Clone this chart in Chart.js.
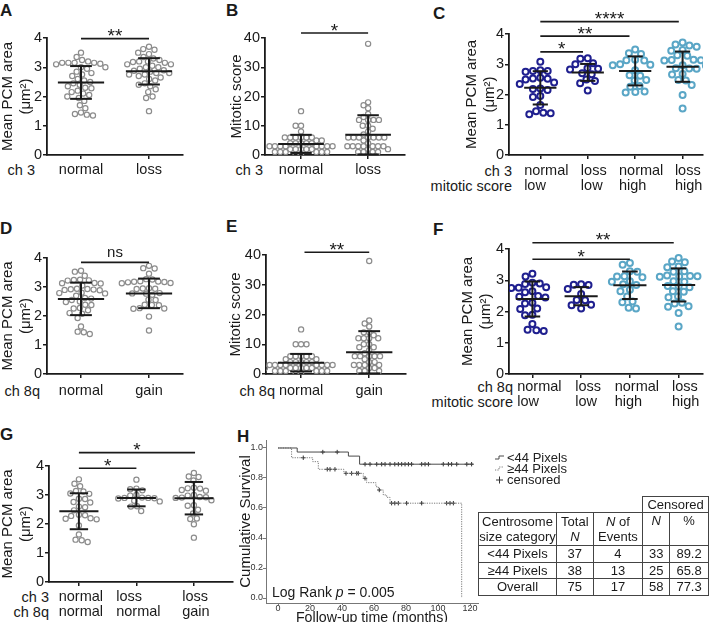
<!DOCTYPE html>
<html>
<head>
<meta charset="utf-8">
<script src="https://cdn.jsdelivr.net/npm/chart.js@4.4.1/dist/chart.umd.min.js"></script>
<style>
  body { margin: 0; width: 709px; height: 622px; position: relative; overflow: hidden; background: #fff;
         font-family: "Liberation Sans", Arial, sans-serif; color: #1a1a1a; }
  canvas { position: absolute; }
  .letter { position: absolute; font-size: 17px; font-weight: bold; line-height: 17px; }
  .row { position: absolute; font-size: 14.5px; line-height: 14.5px; text-align: right; white-space: nowrap; }
  #tbl { position: absolute; left: 478px; top: 496px; border-collapse: collapse; font-size: 13px; line-height: 15px; table-layout: fixed; }
  #tbl td { border: 1px solid #444; text-align: center; padding: 0; white-space: nowrap; }
  #tbl td.nb { border: none; border-bottom: 1px solid #444; }
  #tbl td.top { vertical-align: top; }
</style>
</head>
<body>
<div class="letter" style="left:0;top:2px">A</div>
<div class="letter" style="left:226px;top:2px">B</div>
<div class="letter" style="left:433px;top:5px">C</div>
<div class="letter" style="left:0;top:220px">D</div>
<div class="letter" style="left:226px;top:218px">E</div>
<div class="letter" style="left:433px;top:221px">F</div>
<div class="letter" style="left:0;top:426px">G</div>
<div class="letter" style="left:237px;top:428px">H</div>

<div class="row" style="right:674px;top:163px">ch 3</div>
<div class="row" style="right:446px;top:163px">ch 3</div>
<div class="row" style="right:197px;top:164px">ch 3<br>mitotic score</div>
<div class="row" style="right:669px;top:384px">ch 8q</div>
<div class="row" style="right:434px;top:384px">ch 8q</div>
<div class="row" style="right:196px;top:380px">ch 8q<br>mitotic score</div>
<div class="row" style="right:660px;top:590px">ch 3<br>ch 8q</div>

<canvas id="a" width="200" height="195" style="left:0;top:0"></canvas>
<canvas id="b" width="194" height="195" style="left:226px;top:0"></canvas>
<canvas id="c" width="254" height="195" style="left:455px;top:0"></canvas>
<canvas id="d" width="200" height="200" style="left:0;top:200px"></canvas>
<canvas id="e" width="194" height="200" style="left:226px;top:200px"></canvas>
<canvas id="f" width="254" height="210" style="left:455px;top:200px"></canvas>
<canvas id="g" width="240" height="212" style="left:0;top:410px"></canvas>
<canvas id="h" width="479" height="197" style="left:230px;top:425px"></canvas>

<table id="tbl">
  <colgroup><col style="width:78px"><col style="width:37px"><col style="width:50px"><col style="width:27px"><col style="width:39px"></colgroup>
  <tbody id="tbody"></tbody>
</table>

<script>
// ---- data ----
const catsCh3 = ['normal', 'loss'];
const catsCh8 = ['normal', 'gain'];
const catsMit3 = [['normal', 'low'], ['loss', 'low'], ['normal', 'high'], ['loss', 'high']];
const catsMit8 = [['normal', 'low'], ['loss', 'low'], ['normal', 'high'], ['loss', 'high']];
const catsBoth = [['normal', 'normal'], ['loss', 'normal'], ['loss', 'gain']];

// A: PCM area by ch 3
const areaCh3Normal = [3.5, 3.35, 3.25, 3.2, 3.15, 3.15, 3.15, 3.15, 3.12, 3.1, 3.0, 3.0, 2.95, 2.85, 2.8, 2.75, 2.7, 2.6, 2.55,
  2.5, 2.45, 2.4, 2.35, 2.3, 2.28, 2.2, 2.15, 2.1, 2.05, 2.0, 1.95, 1.85, 1.7, 1.6, 1.45, 1.4, 1.38, 1.35];
const areaCh3Loss = [3.7, 3.62, 3.6, 3.5, 3.45, 3.35, 3.3, 3.25, 3.2, 3.2, 3.18, 3.15, 3.1, 3.1, 3.05, 3.0, 3.0, 2.95, 2.9,
  2.88, 2.85, 2.8, 2.8, 2.75, 2.75, 2.7, 2.65, 2.6, 2.55, 2.45, 2.4, 2.35, 2.25, 2.15, 2.0, 1.95, 1.5];
const meanA = [2.48, 2.86];
const sdA = [0.56, 0.45];

// B: mitotic score by ch 3
const mitCh3Normal = [15, 10, 10, 8, 6, 6, 6, 6, 6, 6, 5, 5, 4, 4, 4, 4, 4, 3, 3, 3, 3, 3, 3, 3, 3, 2, 2, 2, 2, 2, 1, 1, 1, 1, 1, 1, 0, 0];
const mitCh3Loss = [38, 18, 17, 16, 14, 13, 12, 12, 12, 12, 10, 10, 9, 8, 7, 6, 6, 6, 6, 6, 6, 6, 5, 4, 3, 3, 3, 3, 3, 3, 3,
  2, 2, 1, 1, 1, 1, 0];
const meanB = [3.8, 6.9];
const sdB = [3.1, 6.7];

// C: PCM area by ch 3 and mitotic score
const areaC0 = [3.08, 2.8, 2.78, 2.78, 2.75, 2.55, 2.53, 2.52, 2.5, 2.4, 2.35, 2.2, 2.18, 2.15, 1.95, 1.92, 1.65, 1.45, 1.4, 1.38, 1.35];
const areaC1 = [3.2, 3.18, 3.03, 3.0, 2.87, 2.85, 2.83, 2.7, 2.67, 2.5, 2.45, 2.37, 2.13];
const areaC2 = [3.49, 3.36, 3.34, 3.15, 3.13, 3.12, 3.0, 2.98, 2.97, 2.8, 2.64, 2.62, 2.48, 2.46, 2.28, 2.26, 2.1, 2.08, 2.07];
const areaC3 = [3.72, 3.65, 3.62, 3.58, 3.47, 3.45, 3.3, 3.28, 3.15, 3.14, 3.13, 3.12, 2.97, 2.95, 2.87, 2.86, 2.85, 2.68,
  2.66, 2.48, 2.46, 2.31, 1.98, 1.54];
const meanC = [2.22, 2.73, 2.78, 2.92];
const sdC = [0.55, 0.28, 0.48, 0.5];

// D: PCM area by ch 8q
const areaCh8Normal = [3.56, 3.53, 3.39, 3.25, 3.24, 3.23, 3.22, 3.14, 3.13, 3.12, 3.05, 2.94, 2.93, 2.92, 2.91, 2.9, 2.89,
  2.8, 2.79, 2.78, 2.7, 2.62, 2.6, 2.55, 2.5, 2.48, 2.39, 2.38, 2.28, 2.26, 2.2, 2.1, 2.08, 1.93, 1.64, 1.46, 1.44, 1.38];
const areaCh8Gain = [3.73, 3.65, 3.64, 3.46, 3.27, 3.26, 3.2, 3.19, 3.18, 3.17, 3.16, 3.14, 3.13, 2.96, 2.95, 2.94, 2.93,
  2.79, 2.78, 2.77, 2.73, 2.56, 2.55, 2.39, 2.38, 2.37, 2.27, 2.26, 2.25, 1.98, 1.5];
const meanD = [2.59, 2.78];
const sdD = [0.56, 0.51];

// E: mitotic score by ch 8q
const mitCh8Normal = [15, 10, 10, 10, 6, 6, 6, 6, 6, 5, 5, 4, 4, 4, 4, 4, 3, 3, 3, 3, 3, 3, 3, 3, 2, 2, 2, 2, 2, 2, 1, 1, 1, 1, 1, 1, 0, 0];
const mitCh8Gain = [38, 18, 17, 16, 14, 14, 13, 12, 12, 12, 12, 10, 10, 9, 9, 8, 7, 6, 6, 6, 6, 6, 5, 4, 4, 3, 3, 3, 3, 2, 2, 1, 1, 1];
const meanE = [3.8, 7.3];
const sdE = [2.95, 7.1];

// F: PCM area by ch 8q and mitotic score
const areaF0 = [3.21, 3.12, 2.92, 2.9, 2.88, 2.78, 2.76, 2.75, 2.65, 2.62, 2.5, 2.47, 2.45, 2.28, 2.26, 2.1, 2.08, 1.9, 1.88, 1.6, 1.42, 1.4, 1.38];
const areaF1 = [2.87, 2.86, 2.85, 2.72, 2.56, 2.37, 2.36, 2.22, 2.2, 2.1];
const areaF2 = [3.55, 3.5, 3.29, 3.27, 3.13, 3.12, 3.1, 2.97, 2.95, 2.87, 2.85, 2.7, 2.65, 2.48, 2.32, 2.3, 2.12, 2.1];
const areaF3 = [3.71, 3.6, 3.58, 3.44, 3.42, 3.29, 3.27, 3.15, 3.14, 3.13, 3.12, 3.11, 2.97, 2.95, 2.82, 2.8, 2.78, 2.65,
  2.63, 2.48, 2.46, 2.28, 2.26, 2.17, 2.15, 1.95, 1.52];
const meanF = [2.4, 2.49, 2.84, 2.85];
const sdF = [0.56, 0.29, 0.44, 0.53];

// G: PCM area by ch 3 / ch 8q
const areaG0 = [3.54, 3.39, 3.3, 3.14, 3.12, 3.05, 3.04, 2.87, 2.86, 2.76, 2.74, 2.6, 2.58, 2.47, 2.32, 2.3, 2.28, 2.2, 2.18,
  2.16, 1.95, 1.64, 1.46, 1.44, 1.38];
const areaG1 = [3.53, 3.22, 3.2, 3.16, 3.0, 2.98, 2.91, 2.9, 2.9, 2.89, 2.88, 2.8, 2.78, 2.61, 2.6, 2.45];
const areaG2 = [3.76, 3.64, 3.62, 3.5, 3.25, 3.23, 3.22, 3.17, 3.15, 3.0, 2.98, 2.93, 2.92, 2.91, 2.9, 2.82, 2.65, 2.63,
  2.49, 2.36, 2.19, 2.17, 1.99, 1.53];
const meanG = [2.44, 2.9, 2.89];
const sdG = [0.62, 0.29, 0.56];

// significance brackets
const sigA = [{ from: 0, to: 1, at: 3.98, text: '**' }];
const sigB = [{ from: 0, to: 1, at: 41.7, text: '*' }];
const sigC = [{ from: 0, to: 0.9, at: 3.41, text: '*' }, { from: 0, to: 1.88, at: 3.93, text: '**' },
  { from: 0, to: 2.92, at: 4.41, text: '****' }];
const sigD = [{ from: 0, to: 1, at: 3.85, text: 'ns' }];
const sigE = [{ from: 0.05, to: 1, at: 40.9, text: '**' }];
const sigF = [{ from: 0, to: 2, at: 3.67, text: '*' }, { from: 0, to: 2.9, at: 4.2, text: '**' }];
const sigG = [{ from: 0, to: 1, at: 3.92, text: '*' }, { from: 0, to: 2.02, at: 4.46, text: '*' }];

// H: Kaplan-Meier
const kmSmallT = [0, 12, 44, 51, 122];
const kmSmallS = [1, 0.973, 0.946, 0.892, 0.892];
const kmLargeT = [0, 8.5, 21.7, 25.2, 41.2, 53.3, 55.4, 61.2, 62.7, 65.8, 67.9, 70, 114.8];
const kmLargeS = [1, 0.935, 0.909, 0.858, 0.831, 0.798, 0.769, 0.742, 0.72, 0.687, 0.671, 0.632, 0];
const censSmallT = [28, 37, 54.4, 57.5, 61.7, 64.8, 66.9, 70, 73, 75.2, 77.3, 79.4, 81.5, 83.5, 89.8, 91.9, 94,
  103.3, 106.5, 108.5, 111.7, 118, 121];
const censLargeT = [15.8, 30.8, 32.5, 35.6, 42.5, 46, 49.2, 50.2, 54.4, 63.3, 71, 73, 75.2, 80.4, 89.8, 105.4, 107.5, 109.6];
const hTicksX = [0, 20, 40, 60, 80, 100, 120];
const hTicksY = [0, 0.2, 0.4, 0.6, 0.8, 1.0];
const hLegend = ['<44 Pixels', '\u226544 Pixels', 'censored'];

// table
const tblGroups = ['<44 Pixels', '\u226544 Pixels', 'Overall'];
const tblTotal = [37, 38, 75];
const tblEvents = [4, 13, 17];
const tblCensN = [33, 25, 58];
const tblCensPct = ['89.2', '65.8', '77.3'];

// ---- drawing ----
const INK = '#1a1a1a';
const FONT = '"Liberation Sans", Arial, sans-serif';
const GREY = '#8c8c8c';
const NAVY = '#1f1f8f';
const TEAL = '#5aa6c6';
const AREA_TITLE = ['Mean PCM area', '(\u03bcm\u00b2)'];

function seg(ctx, x1, y1, x2, y2) {
  ctx.beginPath(); ctx.moveTo(x1, y1); ctx.lineTo(x2, y2); ctx.stroke();
}

function overlay(o) {
  return {
    id: 'overlay',
    afterDatasetsDraw(chart) {
      const { ctx, chartArea: a, scales: { x, y } } = chart;
      const u = x.getPixelForValue(1) - x.getPixelForValue(0);
      ctx.save();
      ctx.strokeStyle = INK;
      ctx.lineWidth = 2;
      o.means.forEach((m, i) => {
        const cx = x.getPixelForValue(i);
        const ym = y.getPixelForValue(m);
        const yt = y.getPixelForValue(m + o.sds[i]);
        const yb = y.getPixelForValue(Math.max(0, m - o.sds[i]));
        seg(ctx, cx - 0.34 * u, ym, cx + 0.34 * u, ym);
        seg(ctx, cx, yt, cx, yb);
        seg(ctx, cx - 0.16 * u, yt, cx + 0.16 * u, yt);
        seg(ctx, cx - 0.16 * u, yb, cx + 0.16 * u, yb);
      });
      // category labels, left aligned as a block under each tick
      ctx.fillStyle = INK;
      ctx.font = '14.5px ' + FONT;
      ctx.textBaseline = 'middle';
      ctx.textAlign = 'left';
      o.labels.forEach((lab, i) => {
        const lines = [].concat(lab);
        const w = Math.max(...lines.map(t => ctx.measureText(t).width));
        const sx = x.getPixelForValue(i) - w / 2 + (o.labShift || 0);
        lines.forEach((t, k) => ctx.fillText(t, sx, a.bottom + o.labOff + k * 14.5));
      });
      // significance bars
      ctx.lineWidth = 1.6;
      o.sig.forEach(s => {
        const x1 = x.getPixelForValue(s.from), x2 = x.getPixelForValue(s.to), yy = y.getPixelForValue(s.at);
        seg(ctx, x1, yy, x2, yy);
        const star = s.text.includes('*');
        ctx.font = (star ? '19px ' : '15px ') + FONT;
        ctx.textAlign = 'center';
        ctx.textBaseline = 'alphabetic';
        ctx.fillText(s.text, (x1 + x2) / 2, yy + (star ? 3.5 : -5));
      });
      ctx.restore();
    }
  };
}

// spread points sideways so they don't overlap
function swarm(chart, gap) {
  const xs = chart.scales.x, ys = chart.scales.y;
  const unit = xs.getPixelForValue(1) - xs.getPixelForValue(0);
  chart.data.datasets.forEach((ds, i) => {
    const vals = ds.raw;
    const placed = [];
    const order = vals.map((v, k) => k).sort((p, q) => vals[q] - vals[p]);
    order.forEach(k => {
      const py = ys.getPixelForValue(vals[k]);
      const cands = [0];
      placed.forEach(p => {
        const dy = Math.abs(p.y - py);
        if (dy < gap) {
          const dx = Math.sqrt(gap * gap - dy * dy);
          cands.push(p.x + dx, p.x - dx);
        }
      });
      cands.sort((p, q) => Math.abs(p) - Math.abs(q) || p - q);
      const px = cands.find(c => placed.every(p => Math.hypot(p.x - c, p.y - py) >= gap - 0.01));
      placed.push({ x: px, y: py });
      ds.data[k] = { x: i + px / unit, y: vals[k] };
    });
  });
  chart.update('none');
}

function dotChart(id, o) {
  const axisGrid = { drawOnChartArea: false, tickLength: 4, color: INK, lineWidth: 1.5 };
  const axisBorder = { color: INK, width: 1.8 };
  const chart = new Chart(document.getElementById(id), {
    type: 'scatter',
    data: {
      datasets: o.groups.map((vals, i) => ({
        data: vals.map(v => ({ x: i, y: v })),
        raw: vals,
        pointRadius: o.r,
        pointBorderWidth: o.bw,
        pointBorderColor: o.colors[i],
        pointBackgroundColor: 'rgba(255,255,255,0)'
      }))
    },
    options: {
      responsive: false,
      animation: false,
      events: [],
      layout: { padding: { top: o.top, right: o.right, left: 0, bottom: 0 } },
      plugins: { legend: { display: false }, tooltip: { enabled: false } },
      scales: {
        x: {
          type: 'linear', min: o.xMin, max: o.xMax,
          afterBuildTicks: s => { s.ticks = o.labels.map((_, i) => ({ value: i })); },
          afterFit: s => { s.height = o.xH; },
          grid: axisGrid, border: axisBorder,
          ticks: { display: false }
        },
        y: {
          min: 0, max: o.yMax,
          afterFit: s => { s.width = o.yW; },
          grid: axisGrid, border: axisBorder,
          ticks: { stepSize: o.step, color: INK, padding: 1, font: { size: 14.5, family: FONT } },
          title: { display: true, text: o.title, color: INK, font: { size: 15, family: FONT, lineHeight: 1.2 },
                   padding: { top: o.titlePad, bottom: 0 } }
        }
      }
    },
    plugins: [overlay(o)]
  });
  swarm(chart, o.gap);
  return chart;
}

const greyDots = { r: 2.6, bw: 1.2, gap: 6.2 };
const greyMit = { r: 2.6, bw: 1.2, gap: 5.4 };
const blueDots = { r: 3, bw: 2, gap: 7.4 };

dotChart('a', Object.assign({}, greyDots, {
  groups: [areaCh3Normal, areaCh3Loss], colors: [GREY, GREY], labels: catsCh3, means: meanA, sds: sdA, sig: sigA,
  yMax: 4, step: 1, xMin: -0.5, xMax: 1.5, yW: 47, top: 38, right: 17, xH: 40, labOff: 15, titlePad: -1.5, title: AREA_TITLE
}));
dotChart('b', Object.assign({}, greyMit, {
  groups: [mitCh3Normal, mitCh3Loss], colors: [GREY, GREY], labels: catsCh3, means: meanB, sds: sdB, sig: sigB,
  yMax: 40, step: 10, xMin: -0.537, xMax: 1.55, yW: 39, top: 38, right: 15, xH: 40, labOff: 15, titlePad: 1.5, title: 'Mitotic score'
}));
dotChart('c', Object.assign({}, blueDots, {
  groups: [areaC0, areaC1, areaC2, areaC3], colors: [NAVY, NAVY, TEAL, TEAL], labels: catsMit3, means: meanC, sds: sdC, sig: sigC,
  yMax: 4, step: 1, xMin: -0.66, xMax: 3.43, yW: 54, top: 34, right: 1, xH: 40, labOff: 16, labShift: 6, titlePad: 8, title: AREA_TITLE
}));
dotChart('d', Object.assign({}, greyDots, {
  groups: [areaCh8Normal, areaCh8Gain], colors: [GREY, GREY], labels: catsCh8, means: meanD, sds: sdD, sig: sigD,
  yMax: 4, step: 1, xMin: -0.5, xMax: 1.5, yW: 47, top: 58, right: 17, xH: 26, labOff: 17, titlePad: -1.5, title: AREA_TITLE
}));
dotChart('e', Object.assign({}, greyMit, {
  groups: [mitCh8Normal, mitCh8Gain], colors: [GREY, GREY], labels: catsCh8, means: meanE, sds: sdE, sig: sigE,
  yMax: 40, step: 10, xMin: -0.515, xMax: 1.54, yW: 40, top: 55, right: 14, xH: 26, labOff: 17, titlePad: 1, title: 'Mitotic score'
}));
dotChart('f', Object.assign({}, blueDots, {
  groups: [areaF0, areaF1, areaF2, areaF3], colors: [NAVY, NAVY, TEAL, TEAL], labels: catsMit8, means: meanF, sds: sdF, sig: sigF,
  yMax: 4, step: 1, xMin: -0.48, xMax: 3.5, yW: 54, top: 49, right: 2, xH: 36, labOff: 13, labShift: 7, titlePad: 3.5, title: AREA_TITLE
}));
dotChart('g', Object.assign({}, greyDots, {
  groups: [areaG0, areaG1, areaG2], colors: [GREY, GREY, GREY], labels: catsBoth, means: meanG, sds: sdG, sig: sigG,
  yMax: 4, step: 1, xMin: -0.52, xMax: 2.68, yW: 49, top: 56, right: 7, xH: 40, labOff: 15, labShift: 2, titlePad: -1.5, title: AREA_TITLE
}));

// ---- H: survival ----
function survAt(T, S, t) {
  let s = S[0];
  T.forEach((tt, i) => { if (tt <= t) s = S[i]; });
  return s;
}

const hExtras = {
  id: 'hExtras',
  afterDraw(chart) {
    const { ctx, chartArea: a } = chart;
    ctx.save();
    // log rank text
    ctx.fillStyle = INK;
    ctx.textBaseline = 'alphabetic';
    ctx.textAlign = 'left';
    let x = a.left + 6;
    const y = a.bottom - 6;
    const parts = [['Log Rank ', ''], ['p', 'italic '], [' = 0.005', '']];
    parts.forEach(([t, st]) => {
      ctx.font = st + '14px ' + FONT;
      ctx.fillText(t, x, y);
      x += ctx.measureText(t).width;
    });
    // legend
    const lx = a.right + 17, ty = [32, 43, 54];
    ctx.font = '13px ' + FONT;
    ctx.textBaseline = 'middle';
    ctx.lineWidth = 1;
    hLegend.forEach((t, i) => {
      const yy = ty[i];
      ctx.fillStyle = '#222';
      ctx.fillText(t, lx + 12, yy + 1);
      ctx.strokeStyle = i === 2 ? '#333' : (i === 0 ? '#4a4a4a' : '#7a7a7a');
      ctx.setLineDash(i === 1 ? [1.2, 1.2] : []);
      if (i < 2) {
        ctx.beginPath();
        ctx.moveTo(lx, yy + 2); ctx.lineTo(lx + 4, yy + 2); ctx.lineTo(lx + 4, yy - 1); ctx.lineTo(lx + 9, yy - 1);
        ctx.stroke();
      } else {
        seg(ctx, lx + 1, yy + 1, lx + 8, yy + 1);
        seg(ctx, lx + 4.5, yy - 2.5, lx + 4.5, yy + 4.5);
      }
    });
    ctx.restore();
  }
};

new Chart(document.getElementById('h'), {
  type: 'scatter',
  data: {
    datasets: [
      { data: kmSmallT.map((t, i) => ({ x: t, y: kmSmallS[i] })), showLine: true, stepped: true,
        borderColor: '#4a4a4a', borderWidth: 1, pointRadius: 0 },
      { data: kmLargeT.map((t, i) => ({ x: t, y: kmLargeS[i] })), showLine: true, stepped: true,
        borderColor: '#7a7a7a', borderWidth: 1, borderDash: [1.2, 1.2], pointRadius: 0 },
      { data: censSmallT.map(t => ({ x: t, y: survAt(kmSmallT, kmSmallS, t) })), pointStyle: 'cross',
        pointRadius: 2.2, pointBorderWidth: 1, pointBorderColor: '#333' },
      { data: censLargeT.map(t => ({ x: t, y: survAt(kmLargeT, kmLargeS, t) })), pointStyle: 'cross',
        pointRadius: 2.2, pointBorderWidth: 1, pointBorderColor: '#333' }
    ]
  },
  options: {
    responsive: false,
    animation: false,
    events: [],
    layout: { padding: { top: 15, right: 231, left: 0, bottom: 0 } },
    plugins: { legend: { display: false }, tooltip: { enabled: false } },
    scales: {
      x: {
        type: 'linear', min: -7.5, max: 125,
        afterBuildTicks: s => { s.ticks = hTicksX.map(v => ({ value: v })); },
        afterFit: s => { s.height = 19; },
        grid: { drawOnChartArea: false, tickLength: 2, color: '#777', lineWidth: 1 },
        border: { color: '#777', width: 1 },
        ticks: { color: '#333', padding: -1, font: { size: 9, family: FONT, lineHeight: 1 } },
        title: { display: true, text: 'Follow-up time (months)', color: INK, font: { size: 14.2, family: FONT, lineHeight: 1 },
                 padding: { top: 0, bottom: -3 } }
      },
      y: {
        min: -0.0333, max: 1.0533,
        afterBuildTicks: s => { s.ticks = hTicksY.map(v => ({ value: v })); },
        afterFit: s => { s.width = 36; },
        grid: { drawOnChartArea: false, tickLength: 3, color: '#777', lineWidth: 1 },
        border: { color: '#777', width: 1 },
        ticks: { color: '#333', padding: 0, font: { size: 9, family: FONT }, callback: v => v.toFixed(1) },
        title: { display: true, text: 'Cumulative Survival', color: INK, font: { size: 15, family: FONT, lineHeight: 1.2 },
                 padding: { top: 7, bottom: 0 } }
      }
    }
  },
  plugins: [hExtras]
});

// ---- table ----
const tbody = document.getElementById('tbody');
let html = '<tr style="height:16px"><td class="nb" colspan="3"></td><td colspan="2">Censored</td></tr>';
html += '<tr style="height:33px"><td>Centrosome<br>size category</td><td>Total<br><i>N</i></td>' +
        '<td><i>N</i> of<br>Events</td><td class="top"><i>N</i></td><td class="top">%</td></tr>';
tblGroups.forEach((g, i) => {
  html += '<tr style="height:16.5px"><td>' + g.replace('<', '&lt;') + '</td><td>' + tblTotal[i] + '</td><td>' + tblEvents[i] +
          '</td><td>' + tblCensN[i] + '</td><td>' + tblCensPct[i] + '</td></tr>';
});
tbody.innerHTML = html;
</script>
</body>
</html>
